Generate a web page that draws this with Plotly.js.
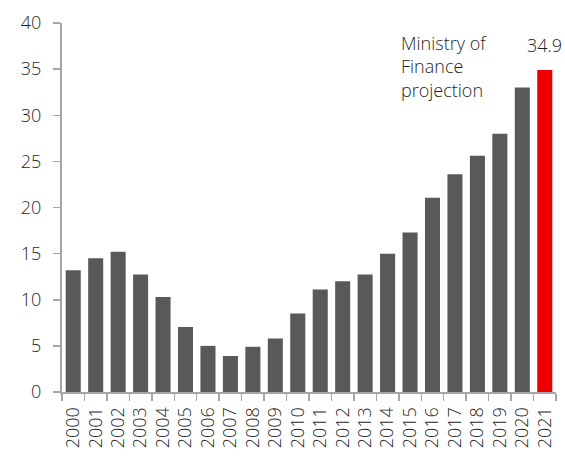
<!DOCTYPE html>
<html>
<head>
<meta charset="utf-8">
<script src="https://cdn.plot.ly/plotly-3.0.1.min.js"></script>
<style>html,body{margin:0;padding:0;background:#fff;}#chart{width:565px;height:458px;}</style>
</head>
<body>
<div id="chart"></div>
<script>
const years = ['2000','2001','2002','2003','2004','2005','2006','2007','2008','2009','2010','2011','2012','2013','2014','2015','2016','2017','2018','2019','2020','2021'];
const values = [13.2,14.5,15.2,12.75,10.3,7.05,5.0,3.9,4.9,5.8,8.5,11.1,12.0,12.75,15.0,17.3,21.05,23.6,25.6,28.0,33.0,34.9];
const projectionYear = '2021';
const yTicks = [0,5,10,15,20,25,30,35,40];

const colors = years.map(y => y === projectionYear ? '#ee0000' : '#595959');
const projIndex = years.indexOf(projectionYear);
const projValue = values[projIndex];

const font = {family: 'Open Sans, sans-serif', size: 18, color: '#1f1f1f', weight: 300};

Plotly.newPlot('chart', [{
  type: 'bar',
  x: years,
  y: values,
  marker: {color: colors},
  hoverinfo: 'x+y'
}], {
  width: 565, height: 458,
  margin: {l: 62, r: 9, t: 23, b: 65.5},
  paper_bgcolor: '#fff', plot_bgcolor: '#fff',
  font: font,
  bargap: 0.33,
  showlegend: false,
  xaxis: {
    type: 'category', range: [-0.5, years.length - 0.5],
    showline: true, linecolor: '#a6a6a6', linewidth: 2,
    ticks: 'outside', tickson: 'boundaries', ticklen: 7, tickcolor: '#a6a6a6', tickwidth: 1.5,
    tickangle: -90, tickfont: font, showgrid: false, ticklabelstandoff: 6
  },
  yaxis: {
    range: [0, 40], tickvals: yTicks, ticktext: yTicks.map(String),
    showline: true, linecolor: '#a6a6a6', linewidth: 2,
    ticks: 'outside', ticklen: 7, tickcolor: '#a6a6a6', tickwidth: 1.5,
    showgrid: false, zeroline: false, tickfont: font, ticklabelstandoff: 8
  },
  annotations: [
    {x: projIndex, y: projValue, xref: 'x', yref: 'y', text: projValue.toFixed(1),
     showarrow: false, yanchor: 'bottom', yshift: 11, font: font},
    {x: 0.682, y: 0.983, xref: 'paper', yref: 'paper', xanchor: 'left', yanchor: 'top', align: 'left',
     text: 'Ministry of<br>Finance<br>projection', showarrow: false, font: font}
  ]
}, {displayModeBar: false, staticPlot: true});
</script>
</body>
</html>
